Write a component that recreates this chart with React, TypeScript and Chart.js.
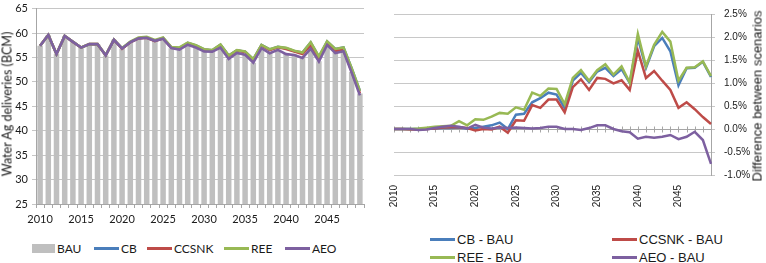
import React, { useEffect, useRef } from "react";
import { Chart, registerables } from "chart.js";
Chart.register(...registerables);

const years = [
  2010, 2011, 2012, 2013, 2014, 2015, 2016, 2017, 2018, 2019,
  2020, 2021, 2022, 2023, 2024, 2025, 2026, 2027, 2028, 2029,
  2030, 2031, 2032, 2033, 2034, 2035, 2036, 2037, 2038, 2039,
  2040, 2041, 2042, 2043, 2044, 2045, 2046, 2047, 2048, 2049,
];

// Water Ag deliveries (BCM)
const bau = [
  57.4, 59.6, 55.7, 59.4, 58.2, 57.0, 57.7, 57.7, 55.4, 58.6,
  56.8, 58.1, 58.9, 59.0, 58.4, 58.8, 56.9, 56.6, 57.6, 57.0,
  56.2, 56.2, 57.0, 54.7, 55.9, 55.5, 53.9, 56.9, 55.9, 56.6,
  55.8, 55.6, 55.0, 56.9, 54.2, 57.7, 56.0, 56.3, 52.0, 47.6,
];
const cb = [
  57.4, 59.6, 55.7, 59.4, 58.21, 57.01, 57.71, 57.71, 55.42, 58.61,
  56.81, 58.13, 58.95, 59.08, 58.4, 58.98, 57.09, 56.93, 57.99, 57.45,
  56.62, 56.46, 57.6, 55.37, 56.47, 56.19, 54.62, 57.55, 56.63, 57.17,
  56.9, 56.34, 55.99, 58.03, 55.12, 58.25, 56.74, 57.05, 52.76, 48.14,
];
const ccsnk = [
  57.4, 59.6, 55.69, 59.39, 58.2, 57.01, 57.72, 57.72, 55.42, 58.61,
  56.78, 58.1, 58.89, 59.03, 58.35, 58.91, 57.0, 56.89, 57.86, 57.36,
  56.56, 56.4, 57.52, 55.29, 56.38, 56.12, 54.49, 57.46, 56.49, 57.08,
  56.75, 56.22, 55.69, 57.5, 54.66, 57.97, 56.32, 56.54, 52.14, 47.65,
];
const ree = [
  57.4, 59.6, 55.7, 59.41, 58.22, 57.03, 57.73, 57.74, 55.49, 58.65,
  56.92, 58.22, 59.06, 59.21, 58.59, 59.08, 57.14, 57.05, 58.01, 57.5,
  56.69, 56.5, 57.63, 55.4, 56.49, 56.21, 54.66, 57.57, 56.66, 57.17,
  56.96, 56.36, 56.01, 58.1, 55.23, 58.31, 56.74, 57.05, 52.76, 48.15,
];
const aeo = [
  57.4, 59.6, 55.7, 59.39, 58.19, 57.01, 57.73, 57.74, 55.43, 58.61,
  56.85, 58.12, 58.91, 59.02, 58.41, 58.82, 56.91, 56.61, 57.61, 57.03,
  56.23, 56.2, 57.0, 54.69, 55.91, 55.54, 53.94, 56.9, 55.87, 56.56,
  55.68, 55.51, 54.9, 56.8, 54.13, 57.57, 55.9, 56.27, 51.88, 47.24,
];

// Difference between scenarios (%)
const cbDiff = [
  0, 0, 0, 0, 0.01, 0.01, 0.02, 0.02, 0.03, 0.01,
  0.02, 0.05, 0.08, 0.14, 0.0, 0.31, 0.33, 0.58, 0.67, 0.79,
  0.75, 0.46, 1.05, 1.22, 1.02, 1.25, 1.33, 1.15, 1.3, 1.0,
  1.98, 1.33, 1.8, 1.98, 1.69, 0.95, 1.32, 1.33, 1.46, 1.13,
];
const ccsnkDiff = [
  0, 0, -0.01, -0.01, 0, 0.01, 0.03, 0.04, 0.04, 0.02,
  -0.03, 0.0, -0.01, 0.05, -0.08, 0.19, 0.18, 0.52, 0.46, 0.64,
  0.64, 0.36, 0.91, 1.08, 0.85, 1.11, 1.09, 0.99, 1.06, 0.85,
  1.7, 1.11, 1.26, 1.05, 0.85, 0.46, 0.58, 0.43, 0.26, 0.11,
];
const reeDiff = [
  0, 0, 0, 0.01, 0.03, 0.05, 0.06, 0.07, 0.17, 0.08,
  0.21, 0.2, 0.27, 0.35, 0.33, 0.47, 0.42, 0.79, 0.72, 0.88,
  0.87, 0.54, 1.11, 1.28, 1.05, 1.28, 1.41, 1.18, 1.36, 1.01,
  2.07, 1.36, 1.83, 2.11, 1.9, 1.05, 1.33, 1.34, 1.47, 1.15,
];
const aeoDiff = [
  0, 0, 0, -0.02, -0.01, 0.02, 0.05, 0.07, 0.05, 0.01,
  0.09, 0.03, 0.01, 0.03, 0.02, 0.03, 0.02, 0.01, 0.02, 0.05,
  0.05, 0.0, 0.0, -0.02, 0.02, 0.08, 0.08, 0.0, -0.05, -0.07,
  -0.21, -0.17, -0.19, -0.17, -0.13, -0.22, -0.17, -0.06, -0.24, -0.76,
];

const leftTitle = "Water Ag deliveries (BCM)";
const rightTitle = "Difference between scenarios";

const C_BLUE = "#4a7ebb";
const C_RED = "#be4b48";
const C_GREEN = "#98b954";
const C_PURPLE = "#7d60a0";
const C_BAR = "#bfbfbf";
const TXT = "#1a1a1a";
const LATO = "Lato, 'Open Sans', sans-serif";
const ARIAL = "'Liberation Sans', Arial, sans-serif";

const zeroLine = {
  id: "zeroLine",
  beforeDatasetsDraw(chart: any) {
    const { ctx, chartArea, scales } = chart;
    const x = scales.x;
    const y = scales.y;
    const y0 = Math.round(y.getPixelForValue(0)) + 0.5;
    ctx.save();
    ctx.strokeStyle = "#a6a6a6";
    ctx.lineWidth = 1;
    ctx.beginPath();
    ctx.moveTo(chartArea.left, y0);
    ctx.lineTo(chartArea.right, y0);
    for (let i = 0; i < years.length; i++) {
      const px = Math.round(x.getPixelForValue(i)) + 0.5;
      ctx.moveTo(px, y0 - 3);
      ctx.lineTo(px, y0 + 3);
    }
    ctx.stroke();
    ctx.restore();
  },
};

function LegendItem(props: { left: number; top: number; color: string; box?: boolean; text: string; font: string; size: number }) {
  const { left, top, color, box, text, font, size } = props;
  return (
    <div style={{ position: "absolute", left, top, height: 18, display: "flex", alignItems: "center", whiteSpace: "nowrap" }}>
      {box ? (
        <div style={{ width: 23, height: 9, background: color }} />
      ) : (
        <div style={{ width: 25, height: 3, background: color }} />
      )}
      <span style={{ marginLeft: 2, fontFamily: font, fontSize: size, color: TXT }}>{text}</span>
    </div>
  );
}

export default function App() {
  const leftRef = useRef<HTMLCanvasElement>(null);
  const rightRef = useRef<HTMLCanvasElement>(null);

  useEffect(() => {
    const labels = years.map(String);
    const lineDs = (label: string, data: number[], color: string, order: number, w = 2.6) => ({
      type: "line" as const,
      label,
      data,
      borderColor: color,
      backgroundColor: color,
      borderWidth: w,
      pointRadius: 0,
      tension: 0,
      order,
    });

    const left = new Chart(leftRef.current!, {
      type: "bar",
      data: {
        labels,
        datasets: [
          { type: "bar", label: "BAU", data: bau, backgroundColor: C_BAR, barPercentage: 0.67, categoryPercentage: 1, order: 5 } as any,
          lineDs("CB", cb, C_BLUE, 4),
          lineDs("CCSNK", ccsnk, C_RED, 3),
          lineDs("REE", ree, C_GREEN, 2),
          lineDs("AEO", aeo, C_PURPLE, 1),
        ],
      },
      options: {
        responsive: false,
        animation: false,
        devicePixelRatio: 1,
        layout: { padding: { left: 0, right: 11, top: 0, bottom: 0 } },
        plugins: { legend: { display: false }, tooltip: { enabled: false } },
        scales: {
          x: {
            grid: { drawOnChartArea: false, drawTicks: true, tickLength: 4, color: "#a6a6a6", offset: true },
            border: { color: "#a6a6a6" },
            ticks: {
              autoSkip: false,
              maxRotation: 0,
              minRotation: 0,
              padding: 5,
              color: TXT,
              font: { family: LATO, size: 11 },
              callback: (_v: any, i: number) => (years[i] % 5 === 0 ? String(years[i]) : ""),
            },
            afterFit: (s: any) => { s.height = 26; },
          },
          y: {
            min: 25,
            max: 65,
            ticks: { stepSize: 5, padding: 4, color: TXT, font: { family: LATO, size: 11 } },
            grid: { color: "#c6c6c6", tickLength: 4 },
            border: { color: "#a6a6a6" },
            afterFit: (s: any) => { s.width = 36; },
          },
        },
      },
    });

    const right = new Chart(rightRef.current!, {
      type: "line",
      data: {
        labels,
        datasets: [
          lineDs("CB - BAU", cbDiff, C_BLUE, 4, 2.5),
          lineDs("CCSNK - BAU", ccsnkDiff, C_RED, 3, 2.5),
          lineDs("REE - BAU", reeDiff, C_GREEN, 2, 2.5),
          lineDs("AEO - BAU", aeoDiff, C_PURPLE, 1, 2.5),
        ],
      },
      options: {
        responsive: false,
        animation: false,
        devicePixelRatio: 1,
        layout: { padding: { left: 19, right: 0, top: 0, bottom: 0 } },
        plugins: { legend: { display: false }, tooltip: { enabled: false } },
        scales: {
          x: {
            offset: false,
            grid: { display: false, drawTicks: false },
            border: { display: false },
            ticks: {
              autoSkip: false,
              maxRotation: 90,
              minRotation: 90,
              padding: 10,
              color: TXT,
              font: { family: ARIAL, size: 10 },
              callback: (_v: any, i: number) => (years[i] % 5 === 0 ? String(years[i]) : ""),
            },
            afterFit: (s: any) => { s.height = 34; },
          },
          y: {
            position: "right",
            min: -1,
            max: 2.5,
            ticks: {
              stepSize: 0.5,
              padding: 9,
              color: TXT,
              font: { family: ARIAL, size: 10 },
              callback: (v: any) => Number(v).toFixed(1) + "%",
            },
            grid: { color: "#c8c8c8", tickLength: 4 },
            border: { color: "#a6a6a6" },
            afterFit: (s: any) => { s.width = 55; },
          },
        },
      },
      plugins: [zeroLine],
    });

    return () => {
      left.destroy();
      right.destroy();
    };
  }, []);

  return (
    <div style={{ position: "fixed", left: 0, top: 0, width: 766, height: 263, background: "#fff", overflow: "hidden" }}>
      <canvas ref={leftRef} width={375} height={232} style={{ position: "absolute", left: 0, top: -2, width: 375, height: 232 }} />
      <canvas ref={rightRef} width={391} height={210} style={{ position: "absolute", left: 375, top: -1, width: 391, height: 210 }} />
      <div
        style={{
          position: "absolute", left: 7, top: 104, transform: "translate(-50%, -50%) rotate(-90deg)",
          whiteSpace: "nowrap", fontFamily: LATO, fontSize: 12.5, color: TXT,
        }}
      >
        {leftTitle}
      </div>
      <div
        style={{
          position: "absolute", left: 757, top: 96, transform: "translate(-50%, -50%) rotate(-90deg)",
          whiteSpace: "nowrap", fontFamily: ARIAL, fontSize: 13, color: TXT,
        }}
      >
        {rightTitle}
      </div>
      <LegendItem left={32} top={239} color={C_BAR} box text="BAU" font={LATO} size={12} />
      <LegendItem left={94} top={239} color={C_BLUE} text="CB" font={LATO} size={12} />
      <LegendItem left={147} top={239} color={C_RED} text="CCSNK" font={LATO} size={12} />
      <LegendItem left={224} top={239} color={C_GREEN} text="REE" font={LATO} size={12} />
      <LegendItem left={285} top={239} color={C_PURPLE} text="AEO" font={LATO} size={12} />
      <LegendItem left={430} top={230} color={C_BLUE} text="CB - BAU" font={ARIAL} size={13} />
      <LegendItem left={430} top={248} color={C_GREEN} text="REE - BAU" font={ARIAL} size={13} />
      <LegendItem left={612} top={230} color={C_RED} text="CCSNK - BAU" font={ARIAL} size={13} />
      <LegendItem left={612} top={248} color={C_PURPLE} text="AEO - BAU" font={ARIAL} size={13} />
    </div>
  );
}
